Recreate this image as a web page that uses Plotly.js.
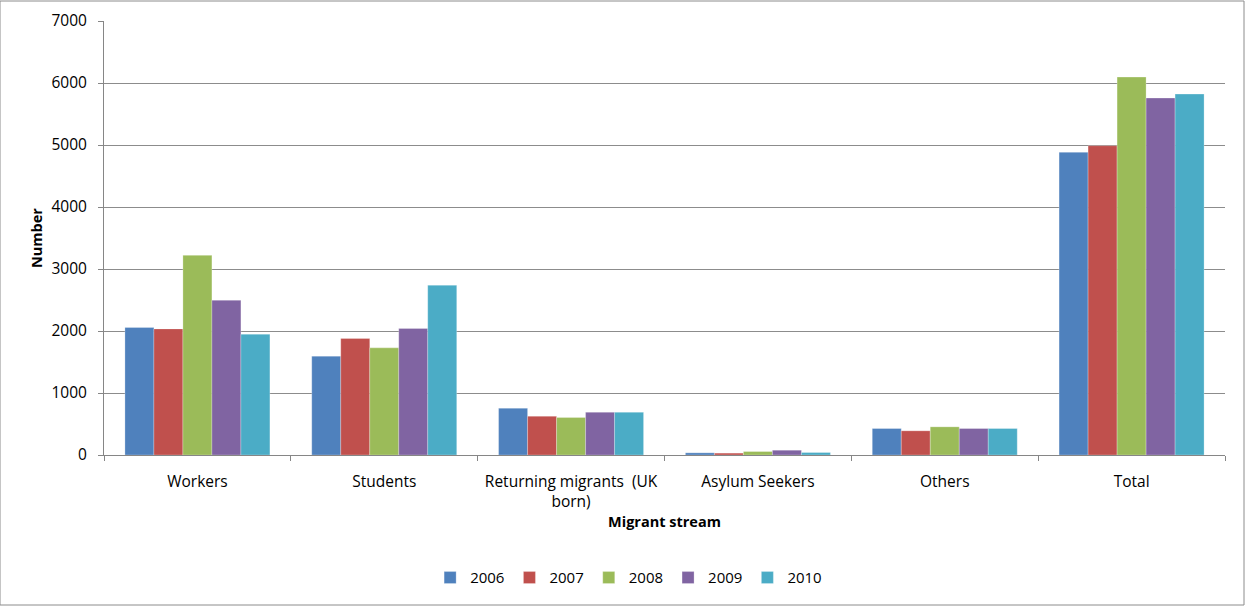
<!DOCTYPE html>
<html>
<head>
<meta charset="utf-8">
<script src="https://cdn.plot.ly/plotly-3.0.1.min.js"></script>
<style>
html,body{margin:0;padding:0;background:#fff;}
#chart{width:1245px;height:606px;}
</style>
</head>
<body>
<div id="chart"></div>
<script>
const categories = ["Workers", "Students", "Returning migrants  (UK<br>born)", "Asylum Seekers", "Others", "Total"];
const years = ["2006", "2007", "2008", "2009", "2010"];
const values2006 = [2056, 1594, 754, 35, 427, 4882];
const values2007 = [2034, 1879, 625, 30, 390, 4989];
const values2008 = [3220, 1728, 604, 56, 454, 6095];
const values2009 = [2496, 2040, 689, 77, 427, 5757];
const values2010 = [1948, 2738, 689, 40, 427, 5821];
const seriesValues = [values2006, values2007, values2008, values2009, values2010];
const colors = ["#4F81BD", "#C0504D", "#9BBB59", "#8064A2", "#4BACC6"];
const yTicks = [0, 1000, 2000, 3000, 4000, 5000, 6000, 7000];

const font = "Open Sans, Liberation Sans, Arial, sans-serif";

const traces = years.map((y, i) => ({
  type: "bar",
  name: y,
  x: categories,
  y: seriesValues[i],
  marker: {color: colors[i], line: {color: "rgba(255,255,255,0.5)", width: 0.5}},
  hoverinfo: "x+y+name"
}));

const layout = {
  width: 1245,
  height: 606,
  autosize: false,
  margin: {l: 104, r: 20, t: 21, b: 151, autoexpand: false},
  paper_bgcolor: "#ffffff",
  plot_bgcolor: "#ffffff",
  font: {family: font, size: 15, color: "#000"},
  barmode: "group",
  bargap: 0.224,
  bargroupgap: 0,
  showlegend: true,
  legend: {
    orientation: "h",
    x: 0.468,
    xanchor: "center",
    y: -0.283,
    yanchor: "middle",
    font: {family: font, size: 15, color: "#000"},
    tracegroupgap: 0
  },
  xaxis: {
    type: "category",
    showgrid: false,
    showline: true,
    linecolor: "#868686",
    linewidth: 1,
    ticks: "outside",
    tickson: "boundaries",
    ticklen: 5,
    tickcolor: "#868686",
    tickangle: 0,
    ticklabelstandoff: 12,
    tickfont: {family: font, size: 15.5, color: "#000"},
    automargin: false,
    title: {text: "<b>Migrant stream</b>", font: {family: font, size: 14.5, color: "#000"}, standoff: 6}
  },
  yaxis: {
    range: [0, 7000],
    tickvals: yTicks,
    ticktext: yTicks.map(String),
    showgrid: true,
    gridcolor: "#8c8c8c",
    gridwidth: 1,
    zeroline: false,
    showline: true,
    linecolor: "#868686",
    linewidth: 1,
    ticks: "outside",
    ticklen: 5,
    tickcolor: "#868686",
    ticklabelstandoff: 8,
    tickfont: {family: font, size: 15.5, color: "#000"},
    automargin: false,
    title: {text: "<b>Number</b>", font: {family: font, size: 14.5, color: "#000"}, standoff: 5}
  },
  shapes: [{
    type: "rect", xref: "paper", yref: "paper",
    x0: -104/1121, x1: 1 + 19/1121, y0: -150/434, y1: 1 + 20/434,
    line: {color: "#8c8c8c", width: 1}, fillcolor: "rgba(0,0,0,0)"
  }]
};

Plotly.newPlot("chart", traces, layout, {displayModeBar: false, staticPlot: true});
</script>
</body>
</html>
